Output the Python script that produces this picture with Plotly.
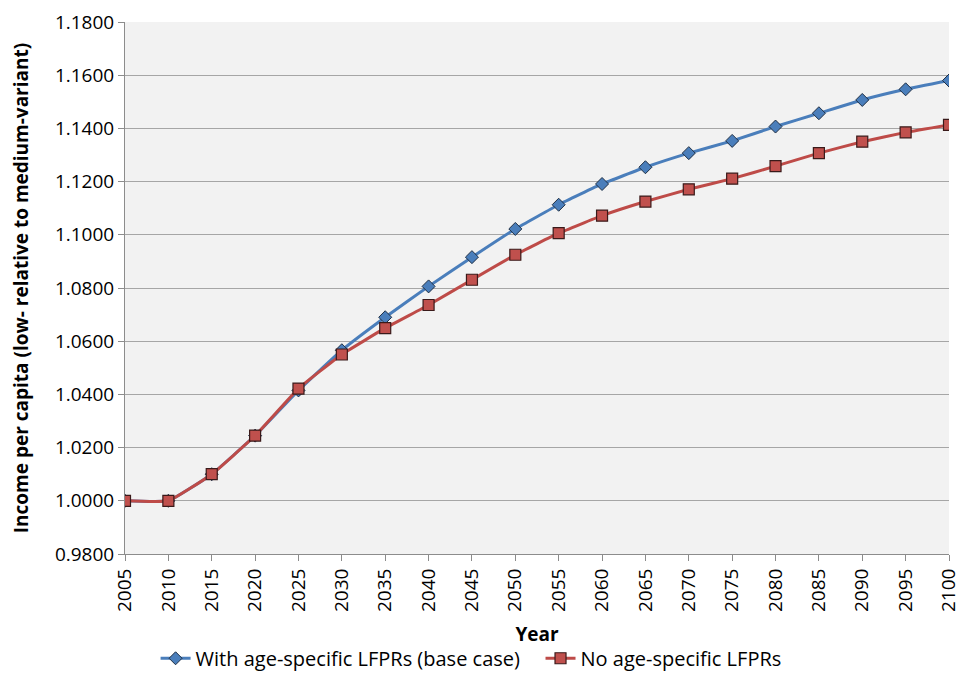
import plotly.graph_objects as go

years = [2005, 2010, 2015, 2020, 2025, 2030, 2035, 2040, 2045, 2050,
         2055, 2060, 2065, 2070, 2075, 2080, 2085, 2090, 2095, 2100]
with_lfpr = [1.0000, 1.0000, 1.0100, 1.0245, 1.0415, 1.0566, 1.0690, 1.0806, 1.0916, 1.1022,
             1.1113, 1.1191, 1.1254, 1.1307, 1.1353, 1.1407, 1.1457, 1.1507, 1.1547, 1.1580]
no_lfpr = [1.0000, 1.0000, 1.0100, 1.0245, 1.0422, 1.0550, 1.0649, 1.0736, 1.0831, 1.0925,
           1.1006, 1.1072, 1.1125, 1.1171, 1.1211, 1.1258, 1.1307, 1.1350, 1.1385, 1.1413]
y_ticks = [0.98, 1.00, 1.02, 1.04, 1.06, 1.08, 1.10, 1.12, 1.14, 1.16, 1.18]

FONT = "Open Sans"

fig = go.Figure()
fig.add_trace(go.Scatter(
    x=years, y=with_lfpr, mode="lines+markers",
    name="With age-specific LFPRs (base case)\u00a0\u00a0\u00a0",
    line=dict(color="#4a7ebb", width=3, shape="spline", smoothing=0.35),
    marker=dict(symbol="diamond", size=10, color="#4a7ebb",
                line=dict(color="#1f2f44", width=1)),
))
fig.add_trace(go.Scatter(
    x=years, y=no_lfpr, mode="lines+markers",
    name="No age-specific LFPRs",
    line=dict(color="#be4b48", width=3, shape="spline", smoothing=0.35),
    marker=dict(symbol="square", size=11, color="#c0504d",
                line=dict(color="#3a1a1a", width=1.2)),
))

fig.update_layout(
    width=953, height=684,
    margin=dict(l=117, r=12, t=14, b=138),
    paper_bgcolor="white",
    plot_bgcolor="#f2f2f2",
    font=dict(family=FONT, size=19, color="#000000"),
    showlegend=True,
    legend=dict(orientation="h", x=0.42, xanchor="center", y=-0.196, yanchor="middle",
                font=dict(family=FONT, size=20), traceorder="normal"),
    xaxis=dict(
        range=[2005, 2100], tickmode="array", tickvals=years,
        ticktext=[str(y) for y in years], tickangle=-90,
        showgrid=False, zeroline=False, automargin=False, ticklabeloverflow="allow",
        showline=True, linecolor="#8c8c8c", linewidth=1,
        ticks="outside", ticklen=6, tickcolor="#8c8c8c",
        tickfont=dict(family=FONT, size=19),
        title=dict(text="<b>Year</b>", font=dict(family=FONT, size=19), standoff=16),
    ),
    yaxis=dict(
        range=[0.98, 1.18], tickmode="array", tickvals=y_ticks,
        tickformat=".4f", automargin=False, ticklabeloverflow="allow",
        showgrid=True, gridcolor="#a6a6a6", gridwidth=1, zeroline=False,
        showline=True, linecolor="#8c8c8c", linewidth=1,
        ticks="outside", ticklen=6, tickcolor="#8c8c8c",
        tickfont=dict(family=FONT, size=19),
        title=dict(text="<b>Income per capita (low- relative to medium-variant)</b>",
                   font=dict(family=FONT, size=19), standoff=21),
    ),
)

fig.write_html("out.html")
